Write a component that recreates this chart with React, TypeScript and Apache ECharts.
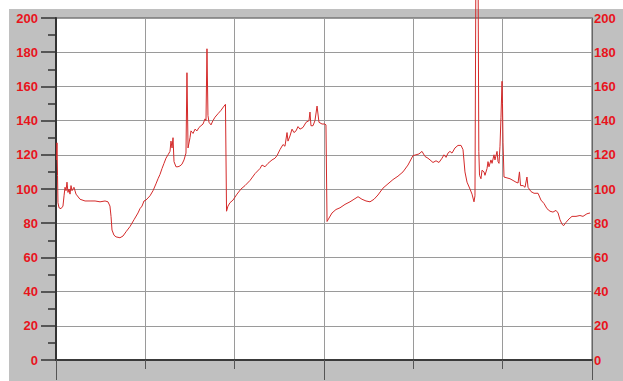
import React, { useEffect, useRef } from "react";
import * as echarts from "echarts";

// elapsed time (x, arbitrary units 0–60, 6 divisions)
const timeValues: number[] = [
  0.06, 0.11, 0.17, 0.22, 0.34, 0.56, 0.78, 0.9, 1.01, 1.12, 1.23, 1.34, 1.46, 1.57, 1.68, 1.79, 2.01, 2.24,
  2.69, 3.25, 3.81, 4.37, 4.93, 5.49, 5.82, 6.04, 6.16, 6.27, 6.49, 6.72, 7.16, 7.5, 7.84, 8.28, 8.73, 9.18,
  9.4, 9.63, 9.85, 10.07, 10.52, 10.86, 11.19, 11.42, 11.64, 11.87, 12.09, 12.31, 12.54, 12.76, 12.87, 12.99,
  13.1, 13.21, 13.43, 13.66, 13.88, 14.1, 14.33, 14.55, 14.66, 14.78, 15.0, 15.11, 15.34, 15.56, 15.78, 16.01,
  16.23, 16.46, 16.68, 16.79, 16.9, 17.01, 17.13, 17.35, 17.57, 17.8, 18.13, 18.47, 18.81, 18.97, 19.09, 19.25,
  19.48, 19.81, 20.26, 20.71, 21.16, 21.72, 22.28, 22.84, 23.06, 23.4, 23.73, 24.18, 24.51, 24.74, 25.07, 25.41,
  25.63, 25.86, 25.97, 26.19, 26.42, 26.64, 26.87, 27.09, 27.31, 27.65, 27.99, 28.32, 28.43, 28.54, 28.77, 28.99,
  29.22, 29.44, 29.78, 30.11, 30.22, 30.34, 30.56, 30.9, 31.34, 31.79, 32.35, 32.91, 33.36, 33.81, 34.25, 34.7,
  35.15, 35.6, 36.04, 36.6, 37.16, 37.72, 38.28, 38.84, 39.4, 39.96, 40.3, 40.63, 40.97, 41.31, 41.64, 41.87,
  42.2, 42.54, 42.87, 43.21, 43.43, 43.66, 43.88, 44.1, 44.33, 44.66, 45.0, 45.34, 45.56, 45.78, 46.01, 46.34,
  46.57, 46.79, 46.9, 46.99, 47.26, 47.33, 47.41, 47.57, 47.69, 47.91, 48.02, 48.25, 48.36, 48.47, 48.69, 48.81,
  49.03, 49.14, 49.37, 49.48, 49.59, 49.7, 49.81, 49.93, 49.98, 50.04, 50.15, 50.48, 50.82, 51.16, 51.49, 51.72,
  51.88, 52.0, 52.28, 52.5, 52.72, 52.84, 53.17, 53.51, 53.96, 54.29, 54.63, 54.96, 55.3, 55.63, 55.97, 56.2,
  56.42, 56.64, 56.81, 57.09, 57.43, 57.76, 58.21, 58.65, 58.99, 59.43, 59.78,
];

// measured value (y)
const readingValues: number[] = [
  117, 127, 108, 92, 89, 88.5, 90, 96, 101, 99, 104, 98, 100, 97, 102, 99, 101, 97,
  94, 93, 93, 93, 92.5, 93, 92.5, 90, 84, 76, 73, 72, 71.5, 72.5, 75, 78, 82, 86,
  88.5, 90, 93, 93.5, 96, 99, 103, 106, 108.5, 112, 115, 118, 120, 122, 128, 124,
  130, 116, 113, 113, 113.5, 114.5, 117, 121, 168, 124, 130, 134, 132.5, 135, 134, 136,
  137, 138, 141, 140, 182, 143, 139, 137.5, 140, 142, 144, 146, 148.5, 149.5, 87, 90,
  92, 93.5, 97, 100, 102, 105, 109, 112, 114, 113, 115, 117, 118, 119.5, 123, 126,
  125, 133, 128, 131, 135, 133, 134, 136.5, 135, 136, 139, 140, 145, 137, 137, 140,
  148.5, 139, 138, 138, 137.5, 81, 83, 86, 88, 89, 91, 92.5, 94, 95.5, 94, 93,
  92.5, 94, 96.5, 100.5, 103, 105.5, 107.5, 110, 114, 119.5, 120, 120.5, 122, 119, 118, 117,
  115.5, 116.5, 115.5, 118, 120, 118.5, 121, 122, 121, 124, 125.5, 125.5, 123, 110, 104, 100,
  97, 92.5, 96, 212, 212, 122, 108, 106, 111, 110, 108, 112, 116, 113, 117, 115,
  120, 117, 122, 116, 115, 125, 142, 163, 150, 127, 107, 106.5, 106, 105, 104, 103.5,
  110, 102, 102, 101, 107, 101, 98.5, 97.5, 97.5, 93.5, 91.5, 88.5, 87, 86.5, 87.5, 86,
  82, 79.5, 78.5, 80.5, 82.5, 84, 84, 84.5, 84, 85.5, 86,
];

const yTicks = { min: 0, max: 200, interval: 20 };
const xRange = { min: 0, max: 60, interval: 30 };

export default function App() {
  const ref = useRef<HTMLDivElement>(null);

  useEffect(() => {
    if (!ref.current) return;
    const chart = echarts.init(ref.current, null, { renderer: "svg" });
    const data = timeValues.map((t, i) => [t, readingValues[i]]);
    const labelFont = {
      color: "#e8141c",
      fontWeight: "bold" as const,
      fontSize: 13,
      fontFamily: "'Liberation Sans Narrow', 'Arial Narrow', 'Liberation Sans', sans-serif",
      padding: [4, 0, 0, 0],
    };
    chart.setOption({
      animation: false,
      backgroundColor: "#ffffff",
      graphic: [
        {
          type: "rect",
          z: -10,
          silent: true,
          shape: { x: 9, y: 9, width: 614, height: 372 },
          style: { fill: "#c0c0c0" },
        },
      ],
      grid: {
        left: 56,
        top: 18,
        right: 31,
        bottom: 21,
        show: true,
        backgroundColor: "#ffffff",
        borderColor: "#555",
        borderWidth: 1,
      },
      xAxis: {
        type: "value",
        min: xRange.min,
        max: xRange.max,
        interval: xRange.interval,
        axisLine: { show: true, onZero: false, lineStyle: { color: "#3a3a3a", width: 2 } },
        axisTick: { show: true, length: 20, lineStyle: { color: "#555", width: 1 } },
        minorTick: { show: true, splitNumber: 3, length: 9, lineStyle: { color: "#555", width: 1 } },
        axisLabel: { show: false },
        splitLine: { show: true, lineStyle: { color: "#9a9a9a", width: 1 } },
        minorSplitLine: { show: true, lineStyle: { color: "#9a9a9a", width: 1 } },
      },
      yAxis: [
        {
          type: "value",
          position: "left",
          min: yTicks.min,
          max: yTicks.max,
          interval: yTicks.interval,
          axisLine: { show: true, lineStyle: { color: "#333", width: 2 } },
          axisTick: { show: true, length: 15, lineStyle: { color: "#333", width: 1.5 } },
          minorTick: { show: true, splitNumber: 2, length: 8, lineStyle: { color: "#333", width: 1.5 } },
          axisLabel: { ...labelFont, margin: 18 },
          splitLine: { show: true, lineStyle: { color: "#9a9a9a", width: 1 } },
        },
        {
          type: "value",
          position: "right",
          min: yTicks.min,
          max: yTicks.max,
          interval: yTicks.interval,
          axisLine: { show: true, lineStyle: { color: "#666", width: 1 } },
          axisTick: { show: false },
          axisLabel: { ...labelFont, margin: 2 },
          splitLine: { show: false },
        },
      ],
      series: [
        {
          type: "line",
          data,
          yAxisIndex: 0,
          showSymbol: false,
          clip: false,
          lineStyle: { color: "#d42a2a", width: 1 },
        },
      ],
    });
    return () => chart.dispose();
  }, []);

  return (
    <div style={{ position: "fixed", left: 0, top: 0, width: 623, height: 381, background: "#fff" }}>
      <div ref={ref} style={{ width: 623, height: 381 }} />
    </div>
  );
}
